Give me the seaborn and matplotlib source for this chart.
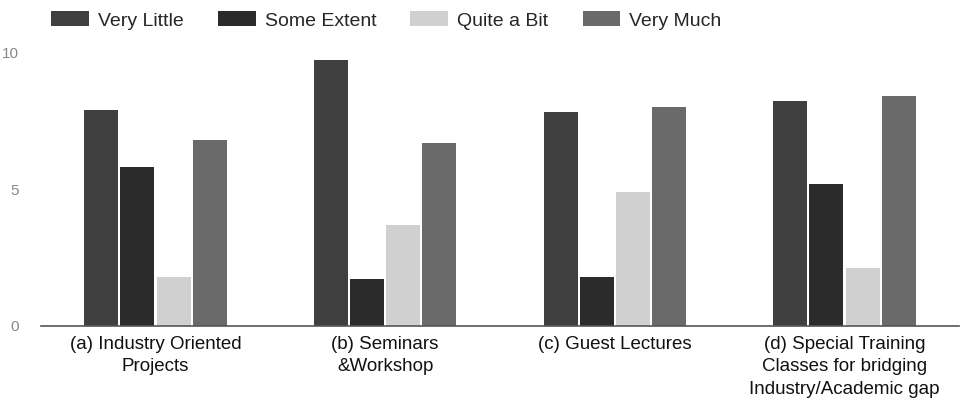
import matplotlib
matplotlib.use("Agg")
import matplotlib.pyplot as plt
import pandas as pd
import seaborn as sns

categories = [
    "(a) Industry Oriented\nProjects",
    "(b) Seminars\n&Workshop",
    "(c) Guest Lectures",
    "(d) Special Training\nClasses for bridging\nIndustry/Academic gap",
]
levels = ["Very Little", "Some Extent", "Quite a Bit", "Very Much"]

very_little = [7.9, 9.7, 7.8, 8.2]
some_extent = [5.8, 1.7, 1.8, 5.2]
quite_a_bit = [1.8, 3.7, 4.9, 2.1]
very_much = [6.8, 6.7, 8.0, 8.4]

colors = ["#3f3f3f", "#2b2b2b", "#d0d0d0", "#6a6a6a"]

sns.set_theme(style="white")
plt.rcParams["font.family"] = ["Liberation Sans", "DejaVu Sans"]

rows = []
for lev, vals in zip(levels, [very_little, some_extent, quite_a_bit, very_much]):
    for cat, v in zip(categories, vals):
        rows.append({"category": cat, "level": lev, "value": v})
df = pd.DataFrame(rows)

fig, ax = plt.subplots(figsize=(9.67, 4.11), dpi=100)
fig.subplots_adjust(left=0.042, right=0.992, bottom=0.207, top=0.873)

sns.barplot(data=df, x="category", y="value", hue="level", hue_order=levels,
            palette=colors, width=0.63, gap=0.06, saturation=1, ax=ax,
            edgecolor="none")

ax.set_ylim(0, 10)
ax.set_xlim(-0.5, 3.5)
ax.set_yticks([0, 5, 10])
ax.set_xlabel("")
ax.set_ylabel("")
ax.tick_params(axis="y", length=0, labelsize=11, labelcolor="#888888", pad=16)
ax.tick_params(axis="x", length=0, labelsize=13.5, labelcolor="#111111", pad=7)
for lbl in ax.get_xticklabels():
    lbl.set_linespacing(1.45)
for s in ["top", "right", "left"]:
    ax.spines[s].set_visible(False)
ax.spines["bottom"].set_color("#555555")
ax.spines["bottom"].set_linewidth(1.2)

ax.legend_.remove()
handles, labels = ax.get_legend_handles_labels()
fig.legend(handles, labels, loc="upper left", bbox_to_anchor=(0.035, 1.015),
           ncol=4, frameon=False, fontsize=14, handlelength=1.95,
           handleheight=0.8, columnspacing=1.75, handletextpad=0.46)

fig.savefig("out.png", dpi=100)
